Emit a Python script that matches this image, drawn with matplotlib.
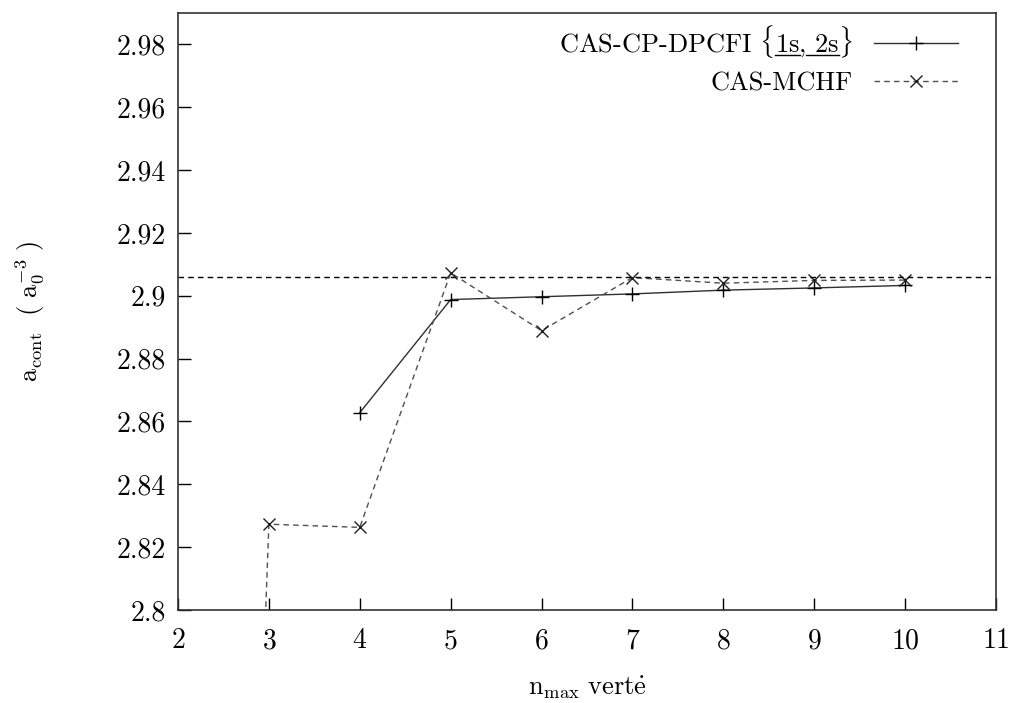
import matplotlib
matplotlib.use("Agg")
import matplotlib.pyplot as plt
from matplotlib.ticker import FuncFormatter, MultipleLocator
from matplotlib.lines import Line2D

plt.rcParams['font.family'] = 'serif'
plt.rcParams['font.serif'] = ['cmr10']
plt.rcParams['mathtext.fontset'] = 'cm'
plt.rcParams['axes.formatter.use_mathtext'] = True

n_cp = [4, 5, 6, 7, 8, 9, 10]
a_cp = [2.8628, 2.8988, 2.8997, 2.9006, 2.9018, 2.9025, 2.9033]

n_mchf = [2, 3, 4, 5, 6, 7, 8, 9, 10]
a_mchf = [2.05, 2.8273, 2.8263, 2.9073, 2.8889, 2.9058, 2.9040, 2.9049, 2.9050]

a_ref = 2.906

label_cp_pre = r'CAS-CP-DPCFI $\{'
label_cp = label_cp_pre + r'\mathrm{1s},\, \mathrm{2s}\}$'

fig = plt.figure(figsize=(10.16, 7.03), dpi=100)
ax = fig.add_axes([0.1752, 0.1323, 0.8051, 0.8492])

ax.plot(n_cp, a_cp, '-', color='#303030', lw=1.0, marker='+', ms=10, mew=1.0,
        mec='black', label=label_cp)
ax.plot(n_mchf, a_mchf, '--', color='#505050', lw=1.0, dashes=(4, 3), marker='x', ms=8,
        mew=1.0, mec='#202020', label='CAS-MCHF')
ax.axhline(a_ref, color='black', lw=1.0, ls='--', dashes=(4, 3))

ax.set_xlim(2, 11)
ax.set_ylim(2.8, 2.99)
ax.xaxis.set_major_locator(MultipleLocator(1))
ax.yaxis.set_major_locator(MultipleLocator(0.02))
ax.yaxis.set_major_formatter(FuncFormatter(lambda v, p: '%g' % round(v, 4)))
ax.tick_params(direction='in', length=9, width=1, labelsize=20,
               top=False, right=False)
ax.tick_params(axis='x', pad=13)
ax.tick_params(axis='y', pad=9)
for s in ax.spines.values():
    s.set_linewidth(1.2)
    s.set_color('#333333')

ax.set_xlabel(r'$\mathrm{n_{max}\ vert\dot{e}}$', fontsize=19, labelpad=14)
ax.set_ylabel(r'$\mathrm{a_{cont}}\ \ (\ \mathrm{a_0^{-3}}\ )$', fontsize=19, labelpad=50)

leg = ax.legend(loc='upper right', bbox_to_anchor=(0.960, 0.9916), frameon=False,
                markerfirst=False, fontsize=19, handlelength=3.2, borderaxespad=0,
                borderpad=0.2, labelspacing=0.45, handletextpad=0.8)

# underline "1s" and "2s" in the first legend label
fig.canvas.draw()
renderer = fig.canvas.get_renderer()
txt = leg.get_texts()[0]
prop = txt.get_fontproperties()
bb = txt.get_window_extent(renderer)
def width(s):
    w, h, d = renderer.get_text_width_height_descent(s, prop, ismath=True)
    return w
_, _, desc = renderer.get_text_width_height_descent(label_cp, prop, ismath=True)
base = bb.y0 + desc
x0 = bb.x0
segs = [
    (width(label_cp_pre + r'\}$') - width(r'$\}$'), width(label_cp_pre + r'\mathrm{1s}$')),
    (width(label_cp_pre + r'\mathrm{1s},\, $'), width(label_cp_pre + r'\mathrm{1s},\, \mathrm{2s}$')),
]
for a, b in segs:
    y = base - 3
    fig.add_artist(Line2D([(x0 + a) / fig.bbox.width, (x0 + b) / fig.bbox.width],
                          [y / fig.bbox.height, y / fig.bbox.height],
                          transform=fig.transFigure, color='black', lw=1.0))

fig.savefig('out.png', dpi=100)
